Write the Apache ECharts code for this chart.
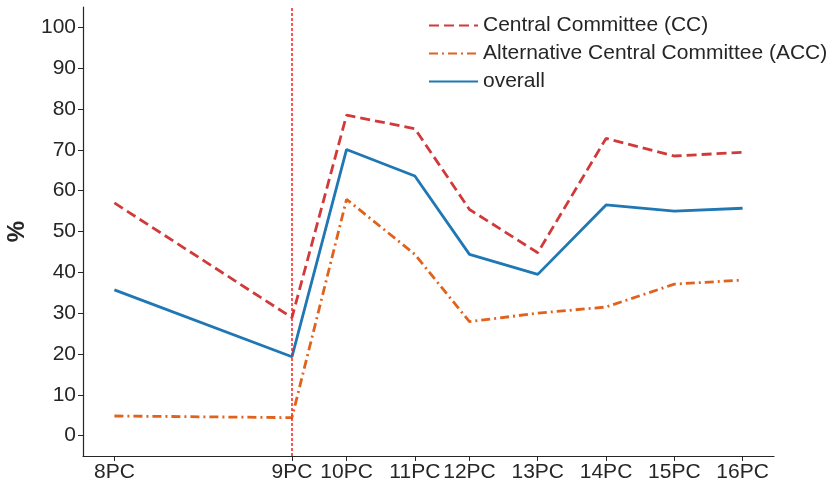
<!DOCTYPE html>
<html>
<head>
<meta charset="utf-8">
<script src="https://cdn.jsdelivr.net/npm/echarts@6/dist/echarts.min.js"></script>
<style>html,body{margin:0;padding:0;background:#fff;}#c{width:833px;height:488px;}</style>
</head>
<body>
<div id="c"></div>
<script>
const categories = ['8PC','9PC','10PC','11PC','12PC','13PC','14PC','15PC','16PC'];
const years = [1956, 1969, 1973, 1978, 1982, 1987, 1992, 1997, 2002];
const ccValues = [57.0, 28.9, 78.5, 75.2, 55.4, 44.8, 72.8, 68.5, 69.4];
const accValues = [4.8, 4.4, 57.9, 44.4, 27.9, 30.0, 31.5, 37.1, 38.1];
const overallValues = [35.7, 19.3, 70.1, 63.6, 44.4, 39.5, 56.5, 55.0, 55.7];
const yTicks = [0, 10, 20, 30, 40, 50, 60, 70, 80, 90, 100];
const markerYear = 1969;

const FONT = 'Liberation Sans, Arial, sans-serif';
const toPairs = vals => years.map((y, i) => [y, vals[i]]);
const labelOf = {};
years.forEach((y, i) => { labelOf[y] = categories[i]; });

const chart = echarts.init(document.getElementById('c'), null, {renderer: 'canvas'});
chart.setOption({
  animation: false,
  backgroundColor: '#fff',
  grid: {left: 83, right: 59, top: 7, bottom: 32, containLabel: false, outerBoundsMode: 'none'},
  legend: {
    orient: 'vertical', left: 423, top: 10,
    itemWidth: 49, itemHeight: 14, itemGap: 7,
    itemStyle: {opacity: 0},
    textStyle: {fontFamily: FONT, fontSize: 21, color: '#262626', padding: [0,0,0,0]},
    data: ['Central Committee (CC)', 'Alternative Central Committee (ACC)', 'overall']
  },
  xAxis: {
    type: 'value', min: 1953.7, max: 2004.3,
    splitLine: {show: false},
    axisLine: {show: true, onZero: false, lineStyle: {color: '#262626', width: 1.2}},
    axisTick: {show: true, customValues: years, length: 5, lineStyle: {color: '#262626'}},
    axisLabel: {customValues: years, formatter: v => labelOf[v] || '', fontFamily: FONT, fontSize: 21, color: '#262626', margin: 6}
  },
  yAxis: {
    type: 'value', min: -5, max: 105,
    name: '%', nameLocation: 'middle', nameRotate: 90, nameGap: 54,
    nameTextStyle: {fontFamily: FONT, fontSize: 24, fontWeight: 'bold', color: '#262626'},
    splitLine: {show: false},
    axisLine: {show: true, onZero: false, lineStyle: {color: '#262626', width: 1.2}},
    axisTick: {show: true, customValues: yTicks, length: 5, lineStyle: {color: '#262626'}},
    axisLabel: {customValues: yTicks, fontFamily: FONT, fontSize: 21, color: '#262626', margin: 7}
  },
  series: [
    {
      name: 'Central Committee (CC)', type: 'line', data: toPairs(ccValues),
      symbol: 'none', color: '#d13a3a',
      lineStyle: {width: 2.8, type: [10, 5], color: '#d13a3a'},
      markLine: {
        silent: true, symbol: 'none', label: {show: false},
        lineStyle: {color: '#ff1a1a', width: 1.5, type: [3, 2]},
        data: [{xAxis: markerYear}]
      }
    },
    {
      name: 'Alternative Central Committee (ACC)', type: 'line', data: toPairs(accValues),
      symbol: 'none', color: '#e0621c',
      lineStyle: {width: 2.8, type: [9, 4, 2, 4], color: '#e0621c'}
    },
    {
      name: 'overall', type: 'line', data: toPairs(overallValues),
      symbol: 'none', color: '#1f77b4',
      lineStyle: {width: 2.8, type: 'solid', color: '#1f77b4'}
    }
  ]
});
</script>
</body>
</html>
